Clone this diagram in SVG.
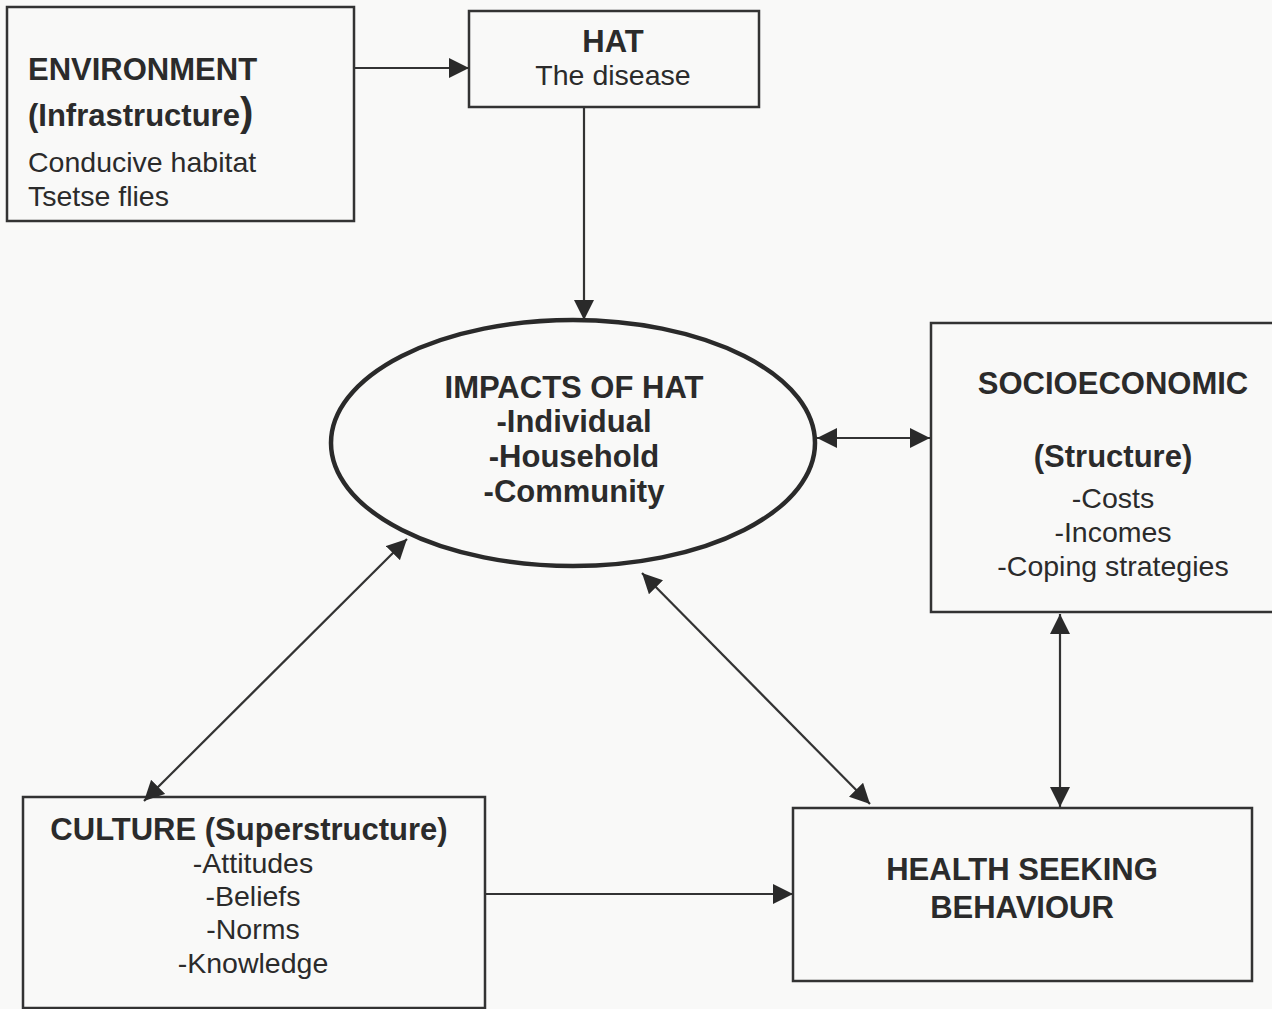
<svg xmlns="http://www.w3.org/2000/svg" width="1272" height="1009" viewBox="0 0 1272 1009">
  <style>
    .box { fill: none; stroke: #333; stroke-width: 2.5; }
    .ell { fill: none; stroke: #2a2a2a; stroke-width: 4.5; }
    .b { font-family: "Liberation Sans", Arial, sans-serif; font-weight: bold; font-size: 31px; fill: #2b2b2b; }
    .r { font-family: "Liberation Sans", Arial, sans-serif; font-size: 28.5px; fill: #2b2b2b; }
    .c { text-anchor: middle; }
    .conn { stroke: #333; stroke-width: 2.2; fill: none; }
  </style>
  <defs>
    <marker id="ah" viewBox="0 0 20 20" refX="20" refY="10" markerWidth="20" markerHeight="20" markerUnits="userSpaceOnUse" orient="auto-start-reverse">
      <path d="M0,0 L20,10 L0,20 Z" fill="#2a2a2a"/>
    </marker>
  </defs>
  <rect x="0" y="0" width="1272" height="1009" fill="#f9f9f8"/>

  <g id="environment">
    <rect class="box" x="7" y="7" width="347" height="214"/>
    <text class="b" x="28" y="80">ENVIRONMENT</text>
    <text class="b" x="28" y="126">(Infrastructure<tspan font-size="40px">)</tspan></text>
    <text class="r" x="28" y="172">Conducive habitat</text>
    <text class="r" x="28" y="206">Tsetse flies</text>
  </g>

  <g id="hat">
    <rect class="box" x="469" y="11" width="290" height="96"/>
    <text class="b c" x="613" y="52">HAT</text>
    <text class="r c" x="613" y="85">The disease</text>
  </g>

  <g id="impacts">
    <ellipse class="ell" cx="573" cy="443" rx="242" ry="123"/>
    <text class="b c" x="574" y="398" font-size="31.5px">IMPACTS OF HAT</text>
    <text class="b c" x="574" y="432">-Individual</text>
    <text class="b c" x="574" y="467">-Household</text>
    <text class="b c" x="574" y="502">-Community</text>
  </g>

  <g id="socioeconomic">
    <rect class="box" x="931" y="323" width="360" height="289"/>
    <text class="b c" x="1113" y="394">SOCIOECONOMIC</text>
    <text class="b c" x="1113" y="467">(Structure)</text>
    <text class="r c" x="1113" y="508">-Costs</text>
    <text class="r c" x="1113" y="542">-Incomes</text>
    <text class="r c" x="1113" y="576">-Coping strategies</text>
  </g>

  <g id="culture">
    <rect class="box" x="23" y="797" width="462" height="211"/>
    <text class="b c" x="249" y="840" font-size="30.5px">CULTURE (Superstructure)</text>
    <text class="r c" x="253" y="873">-Attitudes</text>
    <text class="r c" x="253" y="906">-Beliefs</text>
    <text class="r c" x="253" y="939">-Norms</text>
    <text class="r c" x="253" y="973">-Knowledge</text>
  </g>

  <g id="health">
    <rect class="box" x="793" y="808" width="459" height="173"/>
    <text class="b c" x="1022" y="880">HEALTH SEEKING</text>
    <text class="b c" x="1022" y="918">BEHAVIOUR</text>
  </g>

  <g id="connectors">
    <line class="conn" x1="354" y1="68" x2="469" y2="68" marker-end="url(#ah)"/>
    <line class="conn" x1="584" y1="107" x2="584" y2="320" marker-end="url(#ah)"/>
    <line class="conn" x1="817" y1="438" x2="930" y2="438" marker-start="url(#ah)" marker-end="url(#ah)"/>
    <line class="conn" x1="1060" y1="614" x2="1060" y2="807" marker-start="url(#ah)" marker-end="url(#ah)"/>
    <line class="conn" x1="407" y1="539" x2="144" y2="801" marker-start="url(#ah)" marker-end="url(#ah)"/>
    <line class="conn" x1="642" y1="573" x2="870" y2="804" marker-start="url(#ah)" marker-end="url(#ah)"/>
    <line class="conn" x1="485" y1="894" x2="793" y2="894" marker-end="url(#ah)"/>
  </g>
</svg>
